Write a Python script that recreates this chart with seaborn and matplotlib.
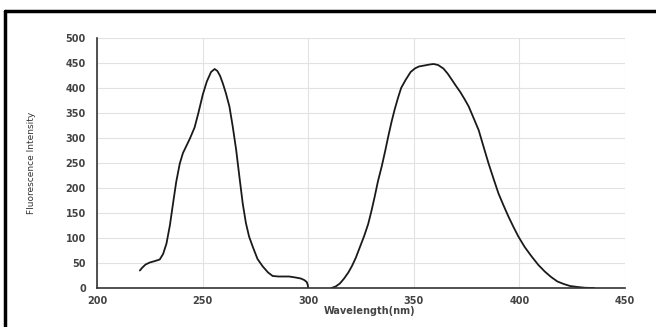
import pandas as pd
import seaborn as sns
import matplotlib.pyplot as plt

# Excitation spectrum (left peak)
ex_wavelength = [220.3, 221.5, 223, 225, 227.5, 229.7, 231.3, 232.9, 234.5, 236, 237.5, 239.2,
                 240.7, 242.3, 244, 246.2, 248, 250.1, 252, 254, 255.7, 257, 258.3, 259.6,
                 261, 262.7, 264.3, 265.9, 267.5, 269, 270.5, 272, 273.7, 276, 278.5, 281,
                 283.2, 286, 289, 291, 294, 296.5, 298.1, 299.3, 299.8, 300]
ex_intensity = [35, 41, 47, 51, 54, 57, 68, 89, 125, 169, 212, 249,
                270, 284, 299, 321, 350, 387, 413, 432, 438, 434, 424, 409,
                390, 363, 322, 276, 220, 169, 130, 103, 83, 58, 43, 31,
                24, 23, 23, 23, 21, 19, 16, 12, 6, 0]

# Emission spectrum (right peak)
em_wavelength = [311, 313, 315, 317, 319, 320.6, 322.5, 324.5, 326.5, 328.4, 330, 331.5, 333,
                 334.8, 336.5, 338, 339.5, 341, 342.5, 344, 346.1, 348.5, 350.5, 352.4, 355,
                 357.5, 359.4, 361.5, 364, 366, 368.1, 370, 372, 374, 376, 378.3, 380.7, 383,
                 385.4, 387.8, 390.1, 392.5, 394.8, 397.2, 399.5, 402.5, 405.8, 409, 412,
                 415, 418, 421, 424, 427.5, 431, 435.4]
em_intensity = [0, 3, 9, 19, 31, 43, 60, 82, 104, 128, 155, 183, 213,
                243, 275, 305, 333, 358, 380, 400, 416, 432, 439, 443, 445,
                447, 448, 446, 439, 429, 416, 404, 392, 378, 363, 340, 316, 283,
                249, 218, 189, 165, 143, 122, 103, 82, 63, 46, 33,
                22, 13, 8, 4, 2, 0.5, 0]

ex = pd.DataFrame({"Wavelength": ex_wavelength, "Intensity": ex_intensity})
em = pd.DataFrame({"Wavelength": em_wavelength, "Intensity": em_intensity})

sns.set_style("whitegrid", {"grid.color": "#e2e2e2", "axes.edgecolor": "#333333"})

fig = plt.figure(figsize=(6.56, 3.27), dpi=100)
ax = fig.add_axes([97 / 656, 1 - 288 / 327, 528 / 656, 250 / 327])

sns.lineplot(data=ex, x="Wavelength", y="Intensity", ax=ax, color="#1a1a1a", lw=1.3, sort=False)
sns.lineplot(data=em, x="Wavelength", y="Intensity", ax=ax, color="#1a1a1a", lw=1.3, sort=False)

ax.set_xlim(200, 450)
ax.set_ylim(0, 500)
ax.set_xticks(range(200, 451, 50))
ax.set_yticks(range(0, 501, 50))
ax.tick_params(axis="both", labelsize=7, colors="#444444", length=2, width=0.8)
ax.tick_params(axis="x", pad=4)
ax.tick_params(axis="y", pad=6)
for lab in ax.get_xticklabels() + ax.get_yticklabels():
    lab.set_fontweight("bold")
    lab.set_color("#444444")

for side in ["top", "right"]:
    ax.spines[side].set_visible(False)
for side in ["left", "bottom"]:
    ax.spines[side].set_linewidth(1.2)
    ax.spines[side].set_color("#333333")

ax.set_xlabel("Wavelength(nm)", fontsize=7, fontweight="bold", color="#444444")
ax.xaxis.set_label_coords(0.517, -0.07)
ax.set_ylabel("Fluorescence Intensity", fontsize=6.5, color="#333333",
              family=["Liberation Sans Narrow", "DejaVu Sans"])
ax.yaxis.set_label_coords(-0.115, 0.5)

# frame around the figure (top and left edges)
fig.add_artist(plt.Line2D([5 / 656, 1], [1 - 10.5 / 327, 1 - 10.5 / 327], color="black", lw=2.5,
                          transform=fig.transFigure))
fig.add_artist(plt.Line2D([5 / 656, 5 / 656], [0, 1 - 10.5 / 327], color="black", lw=2.5,
                          transform=fig.transFigure))

fig.savefig("out.png", dpi=100)
